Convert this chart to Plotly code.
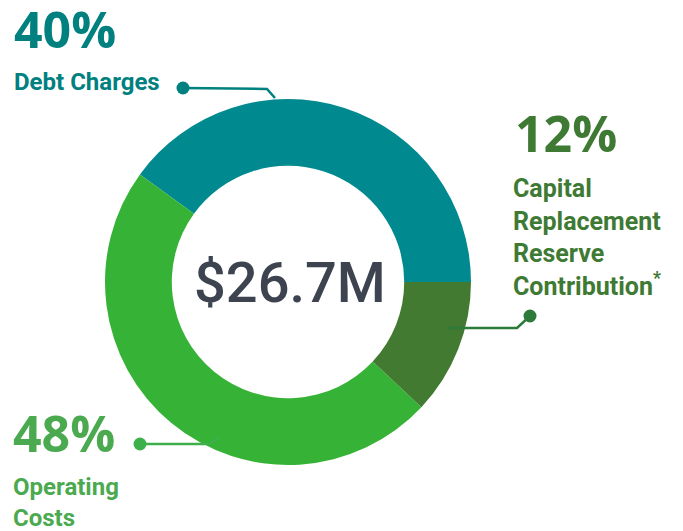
import plotly.graph_objects as go

W, H = 683, 531
labels = ["Debt Charges", "Operating Costs", "Capital Replacement Reserve Contribution"]
values = [40, 48, 12]
colors = ["#008A8F", "#36B336", "#427A31"]
total_label = "$26.7M"

cx, cy, r = 288, 282, 183

fig = go.Figure()
fig.add_trace(go.Pie(
    labels=labels, values=values, hole=0.635, sort=False,
    direction="counterclockwise", rotation=90 - 360 * values[0] / sum(values),
    marker=dict(colors=colors, line=dict(width=0)),
    textinfo="none", hoverinfo="label+percent", showlegend=False,
    domain=dict(x=[(cx - r) / W, (cx + r) / W], y=[(H - cy - r) / H, (H - cy + r) / H]),
))

# invisible pixel-space axes for leader lines
fig.add_trace(go.Scatter(x=[0, W], y=[0, H], mode="markers", marker=dict(opacity=0),
                         hoverinfo="skip", showlegend=False))

LAB = "Roboto"
NUM = "Open Sans"
ann = []
def txt(x, y, s, size, color, font=LAB, bold=True, xanchor="left", yanchor="top", weight=None):
    f = dict(size=size, color=color, family=font)
    if weight:
        f["weight"] = weight
    ann.append(dict(x=x / W, y=1 - y / H, xref="paper", yref="paper",
                    text=(f"<b>{s}</b>" if bold else s), align="left",
                    showarrow=False, xanchor=xanchor, yanchor=yanchor, font=f))

teal_t, dg_t, lg_t = "#00807F", "#3E7A33", "#4BAA50"
txt(12, -7, "40%", 50, teal_t, font=NUM)
txt(12, 66, "Debt Charges", 24, teal_t)
txt(513, 97, "12%", 50, dg_t, font=NUM)
txt(511, 172, "Capital<br>Replacement<br>Reserve<br>Contribution<sup>*</sup>", 25, dg_t)
txt(11, 397, "48%", 50, lg_t, font=NUM)
txt(11, 471, "Operating<br>Costs", 24, lg_t)
txt(cx + 2, cy + 1, total_label, 56, "#3D4450", font="Roboto", bold=False,
    xanchor="center", yanchor="middle", weight=500)

shapes = []
def path(pts, color):
    d = "M " + " L ".join(f"{x},{y}" for x, y in pts)
    shapes.append(dict(type="path", path=d, xref="x", yref="y",
                       line=dict(color=color, width=2.5)))
def dot(x, y, color, rr=6.5):
    shapes.append(dict(type="circle", xref="x", yref="y", x0=x - rr, x1=x + rr,
                       y0=y - rr, y1=y + rr, fillcolor=color, line=dict(width=0)))

path([(183, 88), (267, 89), (275, 98)], "#00807F")
dot(183, 88, "#00807F")
path([(530, 316), (517, 328), (447, 328)], "#2E7A3A")
dot(530, 316, "#2E7A3A")
path([(140, 444), (209, 444), (220, 437)], "#3DB04B")
dot(140, 444, "#3DB04B")

fig.update_layout(
    width=W, height=H, margin=dict(l=0, r=0, t=0, b=0),
    paper_bgcolor="white", plot_bgcolor="rgba(0,0,0,0)",
    xaxis=dict(range=[0, W], visible=False, fixedrange=True),
    yaxis=dict(range=[H, 0], visible=False, fixedrange=True),
    annotations=ann, shapes=shapes, showlegend=False,
)
fig.write_html("out.html", config={"displayModeBar": False},
               post_script="document.body.style.margin='0';")
